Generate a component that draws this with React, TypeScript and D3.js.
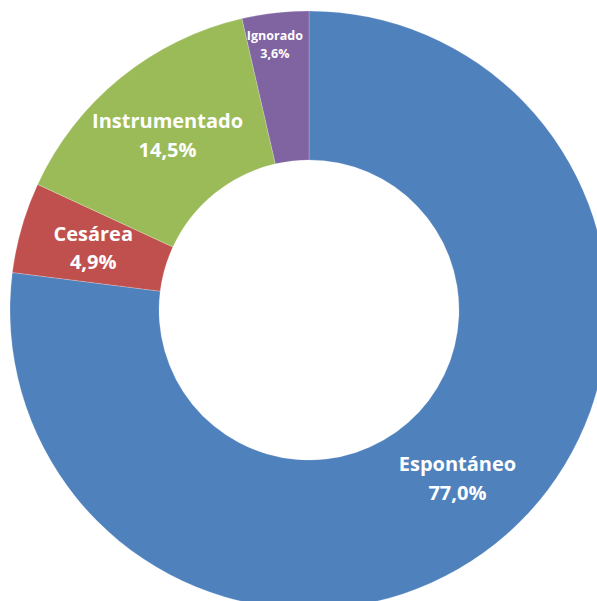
import React from "react";
import * as d3 from "d3";

const categories = ["Espontáneo", "Cesárea", "Instrumentado", "Ignorado"];
const values = [77.0, 4.9, 14.5, 3.6];
const colors = ["#4F81BD", "#C0504D", "#9BBB59", "#8064A2"];

const W = 597;
const H = 601;
const cx = 309;
const cy = 310;
const outerR = 299;
const innerR = 150;

export default function App() {
  const pie = d3
    .pie<number>()
    .sort(null)
    .value((d) => d)
    .startAngle(0)
    .endAngle(2 * Math.PI);
  const arcs = pie(values);
  const arc = d3.arc<d3.PieArcDatum<number>>().innerRadius(innerR).outerRadius(outerR);
  const fmt = (v: number) => v.toFixed(1).replace(".", ",") + "%";

  return (
    <svg
      width={W}
      height={H}
      style={{ position: "fixed", left: 0, top: 0, background: "#fff" }}
    >
      <g transform={`translate(${cx},${cy})`}>
        {arcs.map((a, i) => (
          <path key={i} d={arc(a) || ""} fill={colors[i]} stroke="#fff" strokeOpacity={0.35} strokeWidth={0.6} />
        ))}
        {arcs.map((a, i) => {
          const small = values[i] < 4;
          const mid = (a.startAngle + a.endAngle) / 2;
          const r = small ? 267 : (innerR + outerR) / 2;
          let x = Math.sin(mid) * r;
          const y = -Math.cos(mid) * r;
          if (small) x -= 4;
          const fs = small ? 12.5 : 20;
          const lh = small ? 18 : 28.5;
          return (
            <text
              key={i}
              x={x}
              y={y}
              textAnchor="middle"
              fill="#fff"
              fontFamily="'Open Sans', sans-serif"
              fontWeight="bold"
              fontSize={fs}
            >
              <tspan x={x} dy={-lh / 2 + fs * 0.35}>{categories[i]}</tspan>
              <tspan x={x} dy={lh}>{fmt(values[i])}</tspan>
            </text>
          );
        })}
      </g>
    </svg>
  );
}
